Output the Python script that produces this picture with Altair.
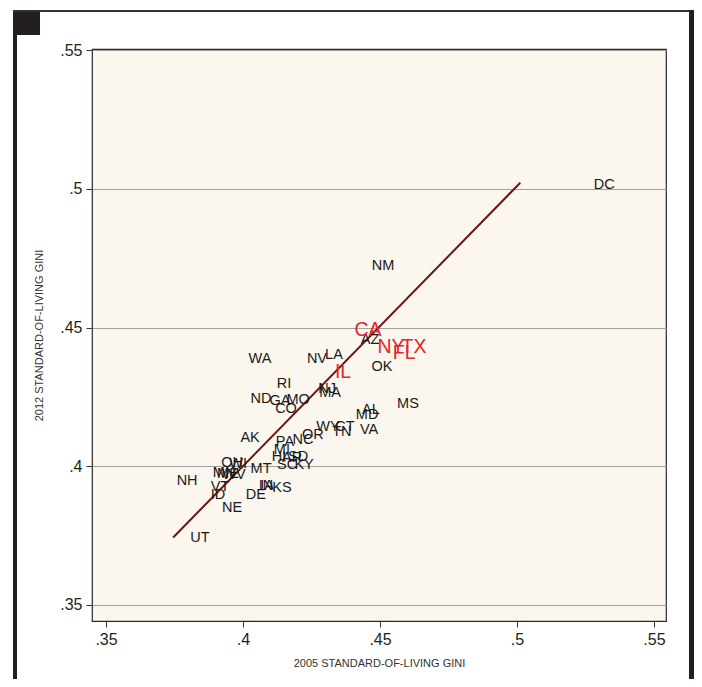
import altair as alt
import pandas as pd

# ---- data ----
states = ["DC", "NM", "AZ", "OK", "WA", "NV", "LA", "RI", "NJ", "MA", "ND", "GA", "MO", "CO",
          "MS", "AL", "MD", "WY", "CT", "TN", "VA", "OR", "AK", "PA", "NC", "MI", "HI", "AR",
          "SD", "SC", "KY", "MT", "OH", "WI", "MN", "ME", "WV", "NH", "VT", "ID", "NE", "DE",
          "IN", "IA", "KS", "UT"]
gini_2005 = [.5318, .4511, .4464, .4507, .4062, .4270, .4332, .4150, .4307, .4318, .4066, .4135, .4201, .4157,
             .4602, .4467, .4453, .4310, .4372, .4361, .4460, .4255, .4026, .4153, .4219, .4142, .4131, .4179,
             .4201, .4161, .4223, .4066, .3960, .3982, .3931, .3945, .3967, .3796, .3916, .3909, .3960, .4047,
             .4084, .4088, .4142, .3843]
gini_2012 = [.5013, .4721, .4454, .4357, .4386, .4386, .4400, .4296, .4278, .4263, .4242, .4234, .4238, .4205,
             .4224, .4202, .4184, .4141, .4141, .4123, .4130, .4112, .4101, .4087, .4094, .4058, .4032, .4029,
             .4032, .4004, .4004, .3989, .4011, .4007, .3975, .3971, .3968, .3946, .3924, .3895, .3849, .3895,
             .3928, .3928, .3921, .3740]

big_states = ["CA", "NY", "TX", "FL", "IL"]
big_2005 = [.4456, .4540, .4624, .4588, .4365]
big_2012 = [.4490, .4429, .4429, .4407, .4339]

line_2005 = [.3745, .5012]
line_2012 = [.3743, .5022]

ticks = [.35, .40, .45, .50, .55]

df = pd.DataFrame({"state": states, "x": gini_2005, "y": gini_2012})
dfb = pd.DataFrame({"state": big_states, "x": big_2005, "y": big_2012})
dfl = pd.DataFrame({"x": line_2005, "y": line_2012})

FONT = "Liberation Sans"
lab_expr = "replace(format(datum.value, '.2~f'), '0.', '.')"

xsc = alt.Scale(domain=[0.34489, 0.55438], nice=False, zero=False)
ysc = alt.Scale(domain=[0.3442, 0.5504], nice=False, zero=False)

xax = alt.Axis(values=ticks, labelExpr=lab_expr, grid=False, domain=False,
               tickSize=6, tickColor="#333333", labelFontSize=16, labelFont=FONT,
               labelColor="#231F20", labelPadding=4,
               title="2005 STANDARD-OF-LIVING GINI", titleFont=FONT, titleFontSize=11,
               titleFontWeight="normal", titleColor="#333333", titlePadding=10)
yax = alt.Axis(values=ticks, labelExpr=lab_expr, grid=True, gridColor="#A0A0A0", gridWidth=1,
               domain=False, tickSize=6, tickColor="#333333", labelFontSize=16, labelFont=FONT,
               labelColor="#231F20", labelPadding=4,
               title="2012 STANDARD-OF-LIVING GINI", titleFont=FONT, titleFontSize=11,
               titleFontWeight="normal", titleColor="#333333", titleX=-48, titleY=286)

labels = alt.Chart(df).mark_text(font=FONT, fontSize=14.5, color="#1A1A1A",
                                 align="center", baseline="middle").encode(
    x=alt.X("x:Q", scale=xsc, axis=xax),
    y=alt.Y("y:Q", scale=ysc, axis=yax),
    text="state:N",
)

big = alt.Chart(dfb).mark_text(font=FONT, fontSize=19.5, color="#E8232B",
                               align="center", baseline="middle").encode(
    x=alt.X("x:Q", scale=xsc),
    y=alt.Y("y:Q", scale=ysc),
    text="state:N",
)

fit = alt.Chart(dfl).mark_line(color="#6B1212", strokeWidth=2).encode(
    x=alt.X("x:Q", scale=xsc),
    y=alt.Y("y:Q", scale=ysc),
)

# page decorations (frame), in pixels relative to the plot area
one = pd.DataFrame({"a": [0]})
deco_color = "#231F20"
left_bar = alt.Chart(one).mark_rect(color=deco_color).encode(
    x=alt.value(-79), x2=alt.value(-75), y=alt.value(-39), y2=alt.value(640))
square = alt.Chart(one).mark_rect(color=deco_color).encode(
    x=alt.value(-79), x2=alt.value(-52), y=alt.value(-39), y2=alt.value(-14))
top_line = alt.Chart(one).mark_rect(color="#333333").encode(
    x=alt.value(-79), x2=alt.value(602), y=alt.value(-39), y2=alt.value(-37))
right_bar = alt.Chart(one).mark_rect(color=deco_color).encode(
    x=alt.value(597), x2=alt.value(602), y=alt.value(-39), y2=alt.value(640))

chart = alt.layer(fit, labels, big, left_bar, square, top_line, right_bar).properties(
    width=574, height=572,
    autosize=alt.AutoSizeParams(type="none"),
    padding={"left": 84, "top": 41, "right": 28, "bottom": 58},
    background="white",
).configure_view(
    fill="#FBF6EE", stroke="#2A2A2A", strokeWidth=1.2
)

chart.save("out.html", embed_options={"renderer": "svg", "actions": False})
